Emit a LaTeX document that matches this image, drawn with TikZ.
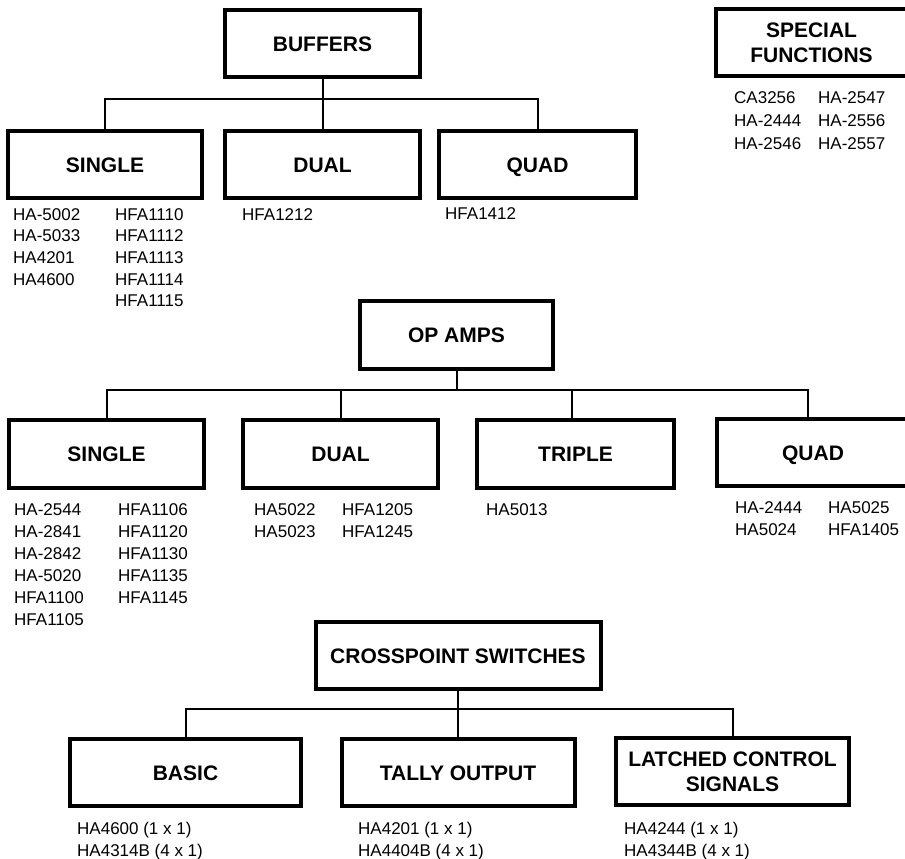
\documentclass[tikz,border=0pt]{standalone}
\usepackage{fontspec}
\setmainfont{Liberation Sans}
\begin{document}
\begin{tikzpicture}[x=1pt,y=-1pt,
  box/.style={draw,line width=4pt,rectangle,inner sep=0pt,align=center,
    font=\fontsize{21}{25}\selectfont\bfseries,minimum height=67pt},
  onebox/.style={box,text height=15pt,text depth=0pt},
  conn/.style={draw,line width=2pt},
  list/.style={anchor=north west,inner sep=0pt,align=left,
    font=\fontsize{17}{21.7}\selectfont}]
\useasboundingbox (0,0) rectangle (905,859);
\begin{scope}
\clip (0,0) rectangle (905,859);
% ---------- BUFFERS ----------
\node[onebox,minimum width=195pt] (buffers) at (322.5,44) {BUFFERS};
\node[onebox,minimum width=194pt] (bsingle) at (105,164.5) {SINGLE};
\node[onebox,minimum width=195pt] (bdual) at (322.5,164.5) {DUAL};
\node[onebox,minimum width=197pt] (bquad) at (537.5,164.5) {QUAD};
\coordinate (bbus) at (0,99);
\draw[conn] (buffers.south) -- (bdual.north);
\draw[conn] (bsingle.north) |- (bbus -| bquad.north) -- (bquad.north);
\node[list] (bs1) at (13,208) {HA-5002\\HA-5033\\HA4201\\HA4600};
\node[list] (bs2) at (115,208) {HFA1110\\HFA1112\\HFA1113\\HFA1114\\HFA1115};
\node[list] (bd1) at (242,208) {HFA1212};
\node[list] (bq1) at (445,207) {HFA1412};
% ---------- SPECIAL FUNCTIONS ----------
\node[box,minimum width=191pt,minimum height=67pt] (special) at (811.5,42.5) {SPECIAL\\FUNCTIONS};
\node[list,font=\fontsize{17}{23}\selectfont] (sf1) at (734,91) {CA3256\\HA-2444\\HA-2546};
\node[list,font=\fontsize{17}{23}\selectfont] (sf2) at (818,91) {HA-2547\\HA-2556\\HA-2557};
% ---------- OP AMPS ----------
\node[onebox,minimum width=193pt,minimum height=68pt] (opamps) at (456.5,335) {OP AMPS};
\node[onebox,minimum width=195pt,minimum height=68pt] (osingle) at (106.5,454) {SINGLE};
\node[onebox,minimum width=195pt,minimum height=68pt] (odual) at (340.5,454) {DUAL};
\node[onebox,minimum width=197pt,minimum height=68pt] (otriple) at (575.5,454) {TRIPLE};
\node[onebox,minimum width=192pt,minimum height=67pt] (oquad) at (813,452.5) {QUAD};
\coordinate (obus) at (0,390);
\coordinate (oquadtop) at ([xshift=-5pt]oquad.north);
\draw[conn] (opamps.south) -- (opamps.south |- obus);
\draw[conn] (osingle.north) |- (obus -| oquadtop) -- (oquadtop);
\draw[conn] (odual.north) -- (odual.north |- obus);
\draw[conn] ([xshift=-4pt]otriple.north) -- ([xshift=-4pt]otriple.north |- obus);
\node[list,font=\fontsize{17}{22}\selectfont] (os1) at (14,503) {HA-2544\\HA-2841\\HA-2842\\HA-5020\\HFA1100\\HFA1105};
\node[list,font=\fontsize{17}{22}\selectfont] (os2) at (118,503) {HFA1106\\HFA1120\\HFA1130\\HFA1135\\HFA1145};
\node[list,font=\fontsize{17}{22}\selectfont] (od1) at (254,503) {HA5022\\HA5023};
\node[list,font=\fontsize{17}{22}\selectfont] (od2) at (342,503) {HFA1205\\HFA1245};
\node[list] (ot1) at (486,503) {HA5013};
\node[list,font=\fontsize{17}{22}\selectfont] (oq1) at (735,501) {HA-2444\\HA5024};
\node[list,font=\fontsize{17}{22}\selectfont] (oq2) at (828,501) {HA5025\\HFA1405};
% ---------- CROSSPOINT SWITCHES ----------
\node[onebox,minimum width=285pt] (cross) at (458,655.5) {CROSSPOINT SWITCHES};
\node[onebox,minimum width=231pt] (basic) at (185.5,772.5) {BASIC};
\node[onebox,minimum width=233pt] (tally) at (458,772.5) {TALLY OUTPUT};
\node[box,minimum width=233pt] (latched) at (732.5,771.5) {LATCHED CONTROL\\SIGNALS};
\coordinate (cbus) at (0,709);
\draw[conn] (cross.south) -- (tally.north);
\draw[conn] (basic.north) |- (cbus -| latched.north) -- (latched.north);
\node[list] (cb1) at (77,822) {HA4600 (1 x 1)\\HA4314B (4 x 1)};
\node[list] (ct1) at (358,822) {HA4201 (1 x 1)\\HA4404B (4 x 1)};
\node[list] (cl1) at (624,822) {HA4244 (1 x 1)\\HA4344B (4 x 1)};
\end{scope}
\end{tikzpicture}
\end{document}
